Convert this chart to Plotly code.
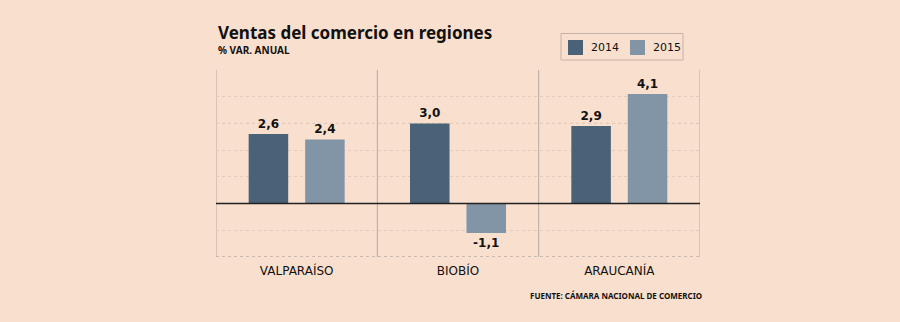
import plotly.graph_objects as go

regions = ["VALPARAÍSO", "BIOBÍO", "ARAUCANÍA"]
series_names = ["2014", "2015"]
values_2014 = [2.6, 3.0, 2.9]
values_2015 = [2.4, -1.1, 4.1]
y_ticks = [-2, -1, 0, 1, 2, 3, 4, 5]

BG = "#f9dfcd"
C2014 = "#4a6277"
C2015 = "#8295a7"
colors = [C2014, C2015]
FONT = "Tahoma, 'DejaVu Sans', sans-serif"
TFONT = "'Noto Sans', sans-serif"
NFONT = "'Liberation Sans Narrow', 'Noto Sans', sans-serif"

# plot area in pixels (for converting legend layout to paper coords)
L, R, T, B, W, H = 216, 200, 70, 65, 900, 322
PW, PH = W - L - R, H - T - B
def px(x):
    return (x - L) / PW
def py(y):
    return (H - B - y) / PH

def fmt(v):
    return f"{v:.1f}".replace(".", ",")

fig = go.Figure()
for name, vals, col in zip(series_names, [values_2014, values_2015], colors):
    fig.add_trace(go.Bar(
        x=regions, y=vals, name=name,
        marker=dict(color=col, line=dict(width=0)),
        text=[fmt(v) for v in vals], textposition="outside",
        textfont=dict(family=FONT, size=12, color="#111111", weight="bold"),
        cliponaxis=False, showlegend=False,
    ))

shapes = []
for xv in [-0.5, 0.5, 1.5, 2.5]:
    shapes.append(dict(type="line", xref="x", yref="y", x0=xv, x1=xv, y0=-2, y1=5,
                       line=dict(color="#b3aaa3", width=1), layer="below"))
for yv in [3, -2]:
    shapes.append(dict(type="line", xref="paper", yref="y", x0=0, x1=1, y0=yv, y1=yv,
                       line=dict(color="#9b9490", width=1, dash="dot"), layer="below"))
shapes.append(dict(type="line", xref="paper", yref="y", x0=0, x1=1, y0=0, y1=0,
                   line=dict(color="#222222", width=1.5), layer="above"))

# manual legend
shapes.append(dict(type="rect", xref="paper", yref="paper",
                   x0=px(561), x1=px(683), y0=py(60), y1=py(33.5),
                   line=dict(color="#c5b3a7", width=1), fillcolor=BG))
annotations = []
for i, (name, col) in enumerate(zip(series_names, colors)):
    x0 = 568 + i * 62
    shapes.append(dict(type="rect", xref="paper", yref="paper",
                       x0=px(x0), x1=px(x0 + 15), y0=py(55), y1=py(40),
                       line=dict(width=0), fillcolor=col))
    annotations.append(dict(text=name, xref="paper", yref="paper",
                            x=px(x0 + 21), y=py(47.5), xanchor="left", yanchor="middle",
                            showarrow=False,
                            font=dict(family=FONT, size=11, color="#111111")))

annotations += [
    dict(text="<b>Ventas del comercio en regiones</b>", xref="paper", yref="paper",
         x=0, y=1.13, xanchor="left", yanchor="bottom", showarrow=False,
         font=dict(family=TFONT, size=17, color="#111111")),
    dict(text="<b>% VAR. ANUAL</b>", xref="paper", yref="paper",
         x=0, y=1.06, xanchor="left", yanchor="bottom", showarrow=False,
         font=dict(family=NFONT, size=10, color="#111111")),
    dict(text="<b>FUENTE: CÁMARA NACIONAL DE COMERCIO</b>", xref="paper", yref="paper",
         x=1.008, y=-0.165, xanchor="right", yanchor="top", showarrow=False,
         font=dict(family=NFONT, size=8, color="#111111")),
]

fig.update_layout(
    width=W, height=H,
    paper_bgcolor=BG, plot_bgcolor=BG,
    margin=dict(l=L, r=R, t=T, b=B),
    barmode="group", bargap=0.3, bargroupgap=0.3,
    showlegend=False,
    shapes=shapes,
    annotations=annotations,
    xaxis=dict(showgrid=False, zeroline=False, showline=False, ticks="",
               tickfont=dict(family=FONT, size=12, color="#111111"),
               ticklabelstandoff=5, range=[-0.5, 2.5]),
    yaxis=dict(range=[-2, 5], tickvals=y_ticks, showticklabels=False,
               showgrid=True, gridcolor="#e2cbbd", griddash="dot", gridwidth=1,
               zeroline=False, showline=False),
)

fig.write_html("out.html")
